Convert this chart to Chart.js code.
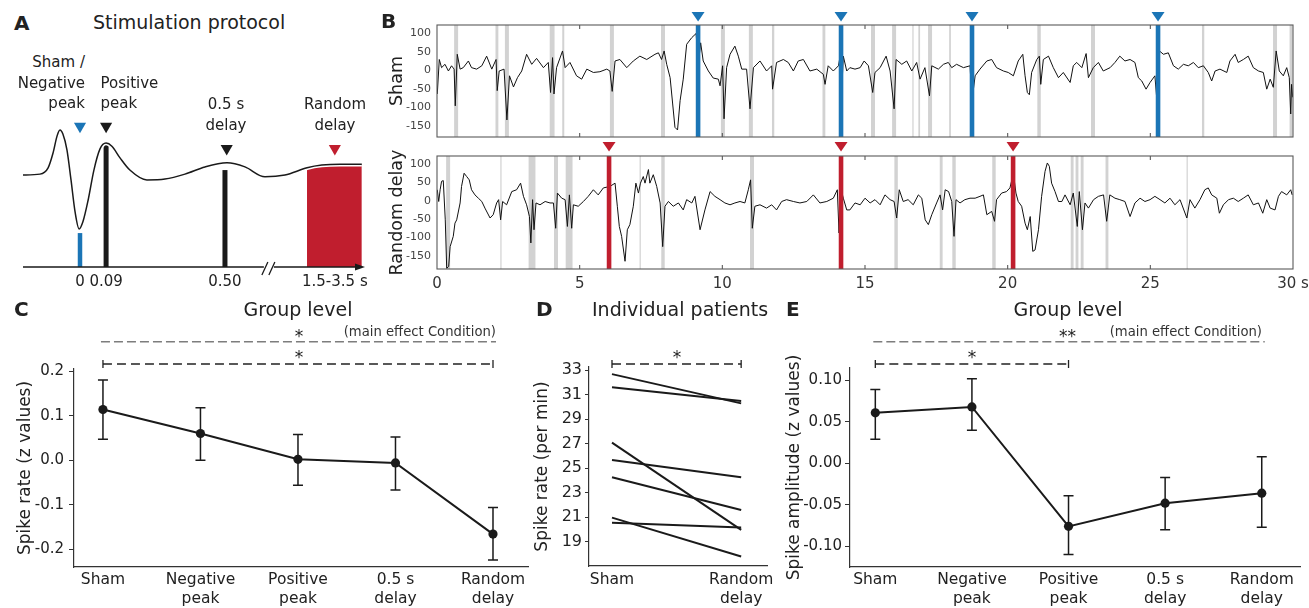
<!DOCTYPE html>
<html><head><meta charset="utf-8">
<script src="https://cdn.jsdelivr.net/npm/chart.js@4.4.0/dist/chart.umd.min.js"></script>
<style>
html,body{margin:0;padding:0;background:#fff;width:1309px;height:608px;overflow:hidden;}
#root{position:relative;width:1309px;height:608px;}
.box{position:absolute;}
.t{position:absolute;white-space:nowrap;line-height:1;color:#222;font-family:"DejaVu Sans",sans-serif;}
</style></head><body>
<div id="root"></div>
<script>
// ================= DATA =================
// Panel A: schematic stimulation protocol (time axis in s, amplitude in arbitrary units)
const waveT = [-0.197,-0.138,-0.110,-0.093,-0.079,-0.069,-0.059,-0.045,-0.031,-0.017,-0.003,0.010,0.028,0.048,0.069,0.090,0.110,0.138,0.172,0.231,0.293,0.362,0.431,0.507,0.569,0.638,0.707,0.783,0.834,0.897,0.972];
const waveV = [0,0.02,0.16,0.49,0.87,1.00,0.91,0.56,-0.11,-0.82,-1.20,-1.04,-0.56,0.11,0.58,0.71,0.64,0.38,0.11,-0.11,-0.09,0.02,0.18,0.27,0.18,-0.04,0,0.16,0.22,0.24,0.24];
const randomWindowStart = 0.783;
const pulseT = [0, 0.09, 0.5];
const pulseTop = [-1.29, 0.70, 0.11];
const markerT = [0, 0.09, 0.506, 0.879];
const markerV = [1.085, 1.085, 0.59, 0.59];
const protoTickT = [0, 0.09, 0.5, 0.879];
const protoTickLabels = ['0', '0.09', '0.50', '1.5-3.5 s'];

// Panel B: EEG traces [time s, amplitude]
const shamTrace = [[0.01,-64],[0.08,29],[0.16,7],[0.28,16],[0.40,-2],[0.51,12],[0.60,3],[0.64,-96],[0.71,43],[0.81,3],[0.92,7],[1.10,25],[1.21,7],[1.39,3],[1.57,12],[1.74,38],[1.92,3],[2.07,29],[2.11,-55],[2.18,-2],[2.35,3],[2.45,-134],[2.54,-15],[2.68,-45],[2.82,-20],[2.97,-2],[3.14,43],[3.32,16],[3.49,32],[3.73,7],[3.90,21],[3.98,-60],[4.05,34],[4.10,-64],[4.19,7],[4.40,52],[4.49,7],[4.66,21],[4.89,-15],[5.07,-24],[5.25,3],[5.48,-6],[5.71,-4],[5.95,3],[6.06,-2],[6.14,-57],[6.24,25],[6.41,29],[6.65,7],[6.88,25],[7.11,38],[7.35,29],[7.64,43],[7.76,47],[7.87,29],[7.96,52],[8.05,16],[8.17,-20],[8.26,-91],[8.34,-154],[8.43,-161],[8.52,-82],[8.63,-24],[8.75,70],[8.93,88],[9.08,99],[9.16,16],[9.24,74],[9.33,25],[9.51,-2],[9.68,-21],[9.86,-24],[9.92,-42],[10.01,12],[10.06,-131],[10.15,7],[10.27,43],[10.44,65],[10.56,38],[10.68,3],[10.85,3],[10.97,-104],[11.09,7],[11.32,25],[11.55,-2],[11.73,12],[11.76,-51],[11.90,21],[12.14,29],[12.31,21],[12.49,-2],[12.66,25],[12.84,29],[13.07,-2],[13.31,3],[13.54,-11],[13.60,-38],[13.71,12],[13.89,-2],[14.07,12],[14.15,47],[14.18,-64],[14.24,38],[14.36,-2],[14.47,7],[14.65,3],[14.83,7],[14.97,25],[15.12,12],[15.27,-60],[15.35,-6],[15.53,7],[15.74,38],[15.88,-2],[16.02,-104],[16.09,29],[16.29,16],[16.46,25],[16.64,-2],[16.81,21],[16.93,-24],[17.10,7],[17.26,-69],[17.34,12],[17.57,3],[17.75,16],[17.92,21],[18.04,7],[18.21,16],[18.45,7],[18.68,12],[18.75,-82],[18.86,-15],[19.03,3],[19.27,25],[19.44,29],[19.61,7],[19.85,-2],[20.02,-6],[20.20,-15],[20.37,25],[20.53,43],[20.61,-15],[20.69,-60],[20.76,-66],[20.84,-6],[21.02,29],[21.11,38],[21.16,-38],[21.25,29],[21.43,38],[21.60,7],[21.78,-20],[21.95,-6],[22.19,-33],[22.30,12],[22.42,21],[22.60,7],[22.75,45],[22.83,-20],[23.00,7],[23.18,21],[23.35,-2],[23.59,7],[23.76,21],[23.93,38],[24.11,25],[24.29,29],[24.46,21],[24.58,-20],[24.70,-29],[24.85,-51],[24.99,-33],[25.16,-15],[25.25,-100],[25.32,52],[25.46,43],[25.63,47],[25.81,12],[25.98,3],[26.16,16],[26.33,12],[26.51,21],[26.68,7],[26.86,12],[27.03,-6],[27.15,-29],[27.27,-2],[27.44,3],[27.68,-6],[27.79,25],[27.97,43],[28.08,21],[28.26,29],[28.43,38],[28.61,7],[28.79,-2],[28.96,-6],[29.08,-51],[29.20,-24],[29.31,-46],[29.41,52],[29.52,-2],[29.66,-15],[29.78,7],[29.87,-20],[29.92,-118],[29.95,-38],[29.99,-73]];
const randomTrace = [[0.01,30],[0.06,-2],[0.11,30],[0.16,53],[0.22,55],[0.29,-52],[0.34,-184],[0.41,-179],[0.46,-125],[0.57,-97],[0.63,-61],[0.69,-52],[0.81,-6],[0.86,39],[0.95,75],[1.04,66],[1.13,57],[1.21,30],[1.33,16],[1.45,7],[1.57,-2],[1.68,-20],[1.86,-47],[1.97,-38],[2.09,-6],[2.16,3],[2.23,-52],[2.30,-2],[2.44,-11],[2.62,25],[2.79,30],[2.93,48],[3.03,12],[3.14,-11],[3.24,-43],[3.29,-115],[3.35,3],[3.40,-79],[3.47,-6],[3.61,-11],[3.79,-2],[3.96,-6],[4.08,-6],[4.16,-75],[4.22,21],[4.37,7],[4.49,3],[4.57,-70],[4.64,16],[4.72,-75],[4.78,-11],[4.95,-15],[5.13,-2],[5.30,12],[5.48,30],[5.65,16],[5.83,35],[6.06,39],[6.24,48],[6.32,-15],[6.39,-70],[6.47,-97],[6.59,-165],[6.67,-79],[6.76,-65],[6.88,-15],[6.97,48],[7.06,21],[7.13,48],[7.23,66],[7.29,48],[7.41,85],[7.46,48],[7.58,71],[7.70,39],[7.82,-6],[7.91,-125],[7.99,-15],[8.11,-2],[8.28,-15],[8.46,-6],[8.63,-25],[8.75,3],[8.93,-6],[9.04,12],[9.22,-79],[9.39,-25],[9.57,25],[9.74,12],[9.92,3],[10.09,-6],[10.27,-11],[10.44,-6],[10.62,-2],[10.79,-6],[10.91,30],[10.99,57],[11.05,-75],[11.14,-15],[11.32,-11],[11.55,-20],[11.73,-11],[11.90,-25],[12.08,-2],[12.25,3],[12.49,-2],[12.72,-6],[12.96,-2],[13.19,16],[13.42,-6],[13.66,-2],[13.89,7],[14.03,30],[14.09,-88],[14.15,35],[14.24,7],[14.36,-25],[14.47,-25],[14.65,-6],[14.83,-11],[15.00,7],[15.18,-6],[15.35,3],[15.53,-11],[15.70,16],[15.88,3],[16.02,-2],[16.11,-47],[16.20,30],[16.34,-2],[16.51,3],[16.69,-11],[16.87,16],[16.99,7],[17.11,-52],[17.22,-65],[17.34,-38],[17.51,-6],[17.63,16],[17.72,-25],[17.81,30],[17.93,25],[18.04,-2],[18.12,-97],[18.19,3],[18.33,-6],[18.50,3],[18.68,7],[18.86,7],[19.03,12],[19.15,16],[19.27,-38],[19.44,-29],[19.54,-56],[19.61,3],[19.79,21],[19.96,25],[20.08,35],[20.20,75],[20.29,21],[20.37,-2],[20.49,-15],[20.61,-61],[20.69,-79],[20.79,-43],[20.88,-138],[20.96,-134],[21.08,-79],[21.19,12],[21.31,80],[21.39,103],[21.46,94],[21.54,48],[21.66,25],[21.78,-2],[21.90,-2],[22.01,16],[22.19,-11],[22.30,21],[22.44,-70],[22.51,25],[22.62,-79],[22.71,-6],[22.83,-20],[23.01,3],[23.18,12],[23.36,16],[23.47,-56],[23.58,16],[23.76,7],[23.93,3],[24.11,-2],[24.29,-43],[24.46,-6],[24.64,7],[24.81,-2],[24.99,3],[25.16,12],[25.34,3],[25.51,-6],[25.69,7],[25.86,-11],[26.04,3],[26.28,-47],[26.39,3],[26.56,-20],[26.74,3],[26.91,30],[27.03,35],[27.15,16],[27.33,7],[27.42,-34],[27.56,-11],[27.74,3],[27.91,7],[28.08,-2],[28.26,7],[28.43,16],[28.61,-11],[28.79,-6],[28.94,-34],[29.08,3],[29.20,-20],[29.37,-25],[29.49,12],[29.60,25],[29.78,16],[29.92,30],[29.97,16]];
const shamBands = [[0.60,0.74],[2.05,2.15],[2.38,2.52],[3.95,4.12],[4.39,4.46],[6.06,6.20],[7.85,7.99],[9.95,10.09],[10.93,11.07],[11.74,11.82],[13.51,13.61],[15.21,15.35],[15.95,16.09],[16.66,16.70],[16.87,16.93],[17.21,17.35],[17.95,18.01],[21.04,21.16],[22.92,23.06],[26.81,26.89],[29.30,29.44],[29.88,29.98]];
const randomBands = [[0.32,0.46],[2.22,2.26],[3.21,3.45],[4.10,4.24],[4.51,4.75],[7.10,7.14],[7.86,7.98],[10.97,11.11],[16.03,16.15],[17.62,17.72],[18.06,18.18],[19.46,19.58],[22.21,22.31],[22.38,22.48],[22.56,22.66],[23.43,23.53],[26.27,26.31]];
const shamStim = [9.15, 14.16, 18.75, 25.27];
const randomStim = [6.03, 14.16, 20.19];
const eegTicks = [0, 5, 10, 15, 20, 25, 30];
const eegTickLabels = ['0', '5', '10', '15', '20', '25', '30 s'];
const eegYTicks = [-150, -100, -50, 0, 50, 100];

// Panels C / E: group level
const conditions = [['Sham'], ['Negative', 'peak'], ['Positive', 'peak'], ['0.5 s', 'delay'], ['Random', 'delay']];
const rateMean = [0.114, 0.060, 0.002, -0.006, -0.166];
const rateHigh = [0.180, 0.118, 0.058, 0.052, -0.106];
const rateLow  = [0.047, 0.000, -0.056, -0.067, -0.224];
const rateTicks = [-0.2, -0.1, 0, 0.1, 0.2];
const ampMean = [0.061, 0.068, -0.076, -0.048, -0.036];
const ampHigh = [0.089, 0.102, -0.039, -0.017, 0.008];
const ampLow  = [0.029, 0.040, -0.110, -0.080, -0.077];
const ampTicks = [-0.10, -0.05, 0, 0.05, 0.10];
const rateSig = [[0, 4, 'main'], [0, 4, 'pair']];
const ampSig  = [[0, 4, 'main'], [0, 2, 'pair']];

// Panel D: individual patients
const patientConditions = [['Sham'], ['Random', 'delay']];
const patientSham   = [32.67, 31.60, 27.07, 25.66, 24.25, 20.95, 20.54];
const patientRandom = [30.28, 30.47, 19.95, 24.25, 21.58, 17.77, 20.14];
const patientTicks = [19, 21, 23, 25, 27, 29, 31, 33];
const patientSig = [[0, 1, 'pair']];

// ================= SETUP =================
const FONT = "'DejaVu Sans', sans-serif";
Chart.defaults.font.family = FONT;
Chart.defaults.color = '#222';
Chart.defaults.animation = false;
Chart.defaults.events = [];
Chart.defaults.plugins.legend.display = false;
Chart.defaults.plugins.tooltip.enabled = false;
const BLUE = '#1b75b6', RED = '#c01e2e', INK = '#1a1a1a';
const root = document.getElementById('root');

function makeCanvas(l, t, w, h) {
  const d = document.createElement('div'); d.className = 'box';
  d.style.cssText = `left:${l}px;top:${t}px;width:${w}px;height:${h}px;`;
  const c = document.createElement('canvas'); c.width = w; c.height = h;
  c.style.width = w + 'px'; c.style.height = h + 'px';
  d.appendChild(c); root.appendChild(d); return c;
}
function txt(x, base, size, s, align, opt) {
  opt = opt || {};
  const d = document.createElement('div'); d.className = 't'; d.textContent = s;
  d.style.fontSize = size + 'px'; d.style.top = (base - 0.846 * size) + 'px';
  if (opt.bold) d.style.fontWeight = 'bold';
  if (opt.color) d.style.color = opt.color;
  if (align === 'right') { d.style.left = (x - 1000) + 'px'; d.style.width = '1000px'; d.style.textAlign = 'right'; }
  else if (align === 'center') { d.style.left = (x - 500) + 'px'; d.style.width = '1000px'; d.style.textAlign = 'center'; }
  else d.style.left = x + 'px';
  d.style.zIndex = 5; root.appendChild(d);
}
const fixW = w => s => { s.width = w; s.paddingTop = 0; s.paddingBottom = 0; s.paddingLeft = 0; s.paddingRight = 0; };
const fixH = h => s => { s.height = h; s.paddingTop = 0; s.paddingBottom = 0; s.paddingLeft = 0; s.paddingRight = 0; };
const setTicks = arr => s => { s.ticks = arr.map(v => ({ value: v })); };

// ================= PANEL A =================
(function () {
  const wave = waveT.map((t, i) => ({ x: t, y: waveV[i] }));
  const redPart = wave.filter(p => p.x >= randomWindowStart);
  const yMin = -2.044;
  const pulseColors = [BLUE, INK, INK];
  const markerColors = [BLUE, INK, INK, RED];
  const ds = [];
  ds.push({ data: markerT.map((t, i) => ({ x: t, y: markerV[i] })), showLine: false, pointStyle: 'triangle', rotation: 180, pointRadius: 7, pointBackgroundColor: markerColors, pointBorderWidth: 0, clip: false });
  ds.push({ data: wave, borderColor: INK, borderWidth: 1.5, pointRadius: 0, cubicInterpolationMode: 'monotone' });
  ds.push({ data: wave, borderColor: '#fff', borderWidth: 4.5, pointRadius: 0, cubicInterpolationMode: 'monotone' });
  pulseT.forEach((t, i) => ds.push({ data: [{ x: t, y: yMin }, { x: t, y: pulseTop[i] }], borderColor: pulseColors[i], borderWidth: i === 0 ? 4.5 : 5, pointRadius: 0, borderCapStyle: 'butt' }));
  ds.push({ data: redPart, borderWidth: 0, borderColor: RED, backgroundColor: RED, fill: 'start', pointRadius: 0, cubicInterpolationMode: 'monotone' });

  const axisPlugin = {
    id: 'protoAxis',
    afterDraw(chart) {
      const { ctx, chartArea: a, scales: { x } } = chart;
      const y = a.bottom, bx = x.getPixelForValue(0.648);
      ctx.save(); ctx.strokeStyle = INK; ctx.fillStyle = INK; ctx.lineWidth = 1.4;
      ctx.beginPath(); ctx.moveTo(a.left, y); ctx.lineTo(bx - 4, y); ctx.moveTo(bx + 6, y); ctx.lineTo(a.right - 6, y); ctx.stroke();
      ctx.beginPath(); ctx.moveTo(a.right - 10, y - 3.5); ctx.lineTo(a.right, y); ctx.lineTo(a.right - 10, y + 3.5); ctx.closePath(); ctx.fill();
      ctx.lineWidth = 1.3;
      ctx.beginPath(); ctx.moveTo(bx - 6, y + 8); ctx.lineTo(bx, y - 5); ctx.moveTo(bx + 1, y + 8); ctx.lineTo(bx + 7, y - 5); ctx.stroke();
      ctx.restore();
    }
  };
  new Chart(makeCanvas(0, 90, 380, 210), {
    type: 'line',
    data: { datasets: ds },
    plugins: [axisPlugin],
    options: {
      responsive: false,
      layout: { padding: { left: 23, right: 15, top: 10, bottom: 0 } },
      scales: {
        x: { type: 'linear', min: -0.1966, max: 0.983, afterFit: fixH(33), afterBuildTicks: setTicks(protoTickT),
             grid: { display: false, drawTicks: false }, border: { display: false },
             ticks: { autoSkip: false, maxRotation: 0, padding: 6, font: { size: 15 }, color: '#222', callback: (v, i) => protoTickLabels[i] } },
        y: { type: 'linear', min: yMin, max: 1.667, display: false }
      }
    }
  });
})();

// ================= PANEL B =================
const eegPlugin = {
  id: 'eeg',
  beforeDatasetsDraw(chart, args, o) {
    const { ctx, chartArea: a, scales: { x } } = chart;
    ctx.save(); ctx.fillStyle = '#d2d2d2';
    o.bands.forEach(([t0, t1]) => { const p0 = x.getPixelForValue(t0), p1 = x.getPixelForValue(t1); ctx.fillRect(p0, a.top, Math.max(p1 - p0, 1.2), a.bottom - a.top); });
    ctx.restore();
  },
  afterDatasetsDraw(chart, args, o) {
    const { ctx, chartArea: a, scales: { x } } = chart;
    ctx.save();
    ctx.fillStyle = o.color;
    o.stim.forEach(t => { const p = x.getPixelForValue(t); ctx.fillRect(p - 2.3, a.top, 4.6, a.bottom - a.top); });
    if (o.tri) {
      ctx.fillStyle = o.tri.color;
      o.tri.times.forEach(t => { const p = x.getPixelForValue(t); ctx.beginPath(); ctx.moveTo(p - 6.5, o.tri.top); ctx.lineTo(p + 6.5, o.tri.top); ctx.lineTo(p, o.tri.top + 9.5); ctx.closePath(); ctx.fill(); });
    }
    ctx.strokeStyle = '#5a5a5a'; ctx.lineWidth = 1.1;
    ctx.strokeRect(a.left, a.top, a.right - a.left, a.bottom - a.top);
    ctx.beginPath();
    o.inTicks.forEach(t => { const p = x.getPixelForValue(t); ctx.moveTo(p, a.top); ctx.lineTo(p, a.top + 4); ctx.moveTo(p, a.bottom); ctx.lineTo(p, a.bottom - 4); });
    ctx.stroke();
    ctx.restore();
  }
};
function eegChart(canvas, trace, pad, yMin, yMax, title, showX, opts) {
  const xCfg = { type: 'linear', min: 0, max: 30, display: showX, afterBuildTicks: setTicks(eegTicks),
             grid: { display: false, drawTicks: false }, border: { display: false },
             ticks: { autoSkip: false, maxRotation: 0, padding: 6.5, font: { size: 15 }, color: '#333', callback: (v, i) => eegTickLabels[i] } };
  if (showX) xCfg.afterFit = fixH(36);
  return new Chart(canvas, {
    type: 'line',
    data: { datasets: [{ data: trace.map(([t, v]) => ({ x: t, y: v })), borderColor: '#111', borderWidth: 1, pointRadius: 0, tension: 0 }] },
    plugins: [eegPlugin],
    options: {
      responsive: false,
      layout: { padding: pad },
      plugins: { eeg: opts },
      scales: {
        x: xCfg,
        y: { type: 'linear', min: yMin, max: yMax, afterFit: fixW(57), afterBuildTicks: setTicks(eegYTicks),
             grid: { display: false, drawTicks: false }, border: { display: false },
             ticks: { autoSkip: false, padding: 6, font: { size: 11 }, color: '#444' },
             title: { display: true, text: title, font: { size: 17.5 }, color: '#222', padding: { top: 6.5, bottom: 0 } } }
      }
    }
  });
}
eegChart(makeCanvas(380, 0, 929, 138), shamTrace, { left: 0, right: 16, top: 25, bottom: 1 }, -180, 122, 'Sham', false,
  { bands: shamBands, stim: shamStim, color: BLUE, tri: { times: shamStim, color: BLUE, top: 12 }, inTicks: [5, 10, 15, 20, 25] });
eegChart(makeCanvas(380, 138, 929, 167), randomTrace, { left: 0, right: 16, top: 18, bottom: 0 }, -186, 122, 'Random delay', true,
  { bands: randomBands, stim: randomStim, color: RED, tri: { times: randomStim, color: RED, top: 4 }, inTicks: [5, 10, 15, 20, 25] });

// ================= PANELS C, D, E =================
const statPlugin = {
  id: 'stat',
  beforeDatasetsDraw(chart, args, o) {
    if (!o.lo) return;
    const { ctx, scales: { x, y } } = chart;
    ctx.save(); ctx.strokeStyle = INK; ctx.lineWidth = 1.5;
    o.lo.forEach((lo, i) => {
      const px = x.getPixelForValue(i), p1 = y.getPixelForValue(lo), p2 = y.getPixelForValue(o.hi[i]);
      ctx.beginPath(); ctx.moveTo(px, p1); ctx.lineTo(px, p2);
      ctx.moveTo(px - 5, p1); ctx.lineTo(px + 5, p1); ctx.moveTo(px - 5, p2); ctx.lineTo(px + 5, p2); ctx.stroke();
    });
    ctx.restore();
  },
  afterDraw(chart, args, o) {
    const { ctx, scales: { x } } = chart;
    (o.sig || []).forEach(([i0, i1, kind]) => {
      const x0 = x.getPixelForValue(i0), x1 = x.getPixelForValue(i1);
      ctx.save();
      if (kind === 'main') {
        ctx.strokeStyle = '#7d7d7d'; ctx.lineWidth = 1.4; ctx.setLineDash([9, 4]);
        ctx.beginPath(); ctx.moveTo(x0 - 2, o.mainY); ctx.lineTo(x1 + 3, o.mainY); ctx.stroke();
      } else {
        ctx.strokeStyle = '#222'; ctx.lineWidth = 1.3; ctx.setLineDash([9, 5]);
        ctx.beginPath(); ctx.moveTo(x0, o.pairY); ctx.lineTo(x1, o.pairY); ctx.stroke();
        ctx.setLineDash([]);
        ctx.beginPath(); ctx.moveTo(x0, o.pairY - 4); ctx.lineTo(x0, o.pairY + 4); ctx.moveTo(x1, o.pairY - 4); ctx.lineTo(x1, o.pairY + 4); ctx.stroke();
      }
      ctx.restore();
    });
  }
};
function panelChart(canvas, cfg) {
  return new Chart(canvas, {
    type: 'line',
    data: { datasets: cfg.datasets },
    plugins: [statPlugin],
    options: {
      responsive: false,
      layout: { padding: cfg.pad },
      plugins: { stat: cfg.stat },
      scales: {
        x: { type: 'linear', min: cfg.xMin, max: cfg.xMax, afterFit: fixH(cfg.xh), afterBuildTicks: setTicks(cfg.labels.map((_, i) => i)),
             grid: { display: false, drawTicks: false }, border: { display: true, color: '#333', width: 1.2 },
             ticks: { autoSkip: false, maxRotation: 0, padding: cfg.xPad, font: { size: 15.5, lineHeight: 1.22 }, color: '#222', callback: (v, i) => cfg.labels[i] } },
        y: { type: 'linear', min: cfg.yMin, max: cfg.yMax, afterFit: fixW(cfg.yw), afterBuildTicks: setTicks(cfg.yTicks),
             grid: { display: true, drawOnChartArea: false, drawTicks: true, tickLength: cfg.tl, color: '#333' },
             border: { display: true, color: '#333', width: 1.2 },
             ticks: { autoSkip: false, padding: cfg.yPad, font: { size: cfg.yFont }, color: '#222', callback: v => (Math.abs(v) < 1e-9 ? 0 : v).toFixed(cfg.dec) },
             title: { display: true, text: cfg.title, font: { size: 17 }, color: '#222', padding: { top: cfg.titlePad, bottom: 0 } } }
      }
    }
  });
}
function meanSet(means) {
  return [{ data: means.map((m, i) => ({ x: i, y: m })), borderColor: INK, borderWidth: 2, pointRadius: 4.6, pointBackgroundColor: INK, pointBorderWidth: 0 }];
}
// C
panelChart(makeCanvas(0, 290, 540, 318), {
  datasets: meanSet(rateMean), labels: conditions, pad: { left: 0, right: 12, top: 79, bottom: 0 },
  xMin: -0.297, xMax: 4.359, xh: 41, xPad: 4, yMin: -0.24, yMax: 0.205, yTicks: rateTicks, dec: 1, yw: 74, tl: 5, yPad: 5, yFont: 15,
  title: 'Spike rate (z values)', titlePad: 15.5,
  stat: { lo: rateLow, hi: rateHigh, sig: rateSig, mainY: 51.7, pairY: 74 }
});
// D
panelChart(makeCanvas(525, 290, 255, 318), {
  datasets: patientSham.map((s, i) => ({ data: [{ x: 0, y: s }, { x: 1, y: patientRandom[i] }], borderColor: INK, borderWidth: 2, pointRadius: 0 })),
  labels: patientConditions, pad: { left: 0, right: 13, top: 77, bottom: 0 },
  xMin: -0.178, xMax: 1.2, xh: 42, xPad: 5, yMin: 17.0, yMax: 33.25, yTicks: patientTicks, dec: 0, yw: 64, tl: 4, yPad: 3, yFont: 16,
  title: 'Spike rate (per min)', titlePad: 7.8,
  stat: { sig: patientSig, pairY: 74 }
});
// E
panelChart(makeCanvas(780, 290, 529, 318), {
  datasets: meanSet(ampMean), labels: conditions, pad: { left: 0, right: 9, top: 78, bottom: 0 },
  xMin: -0.262, xMax: 4.396, xh: 41, xPad: 4, yMin: -0.125, yMax: 0.115, yTicks: ampTicks, dec: 2, yw: 70, tl: 5, yPad: 3, yFont: 15,
  title: 'Spike amplitude (z values)', titlePad: 4.8,
  stat: { lo: ampLow, hi: ampHigh, sig: ampSig, mainY: 51.7, pairY: 74 }
});

// ================= TEXT =================
txt(14, 30, 20, 'A', 'left', { bold: true });
txt(93, 29.5, 19, 'Stimulation protocol', 'left');
txt(85, 68, 15, 'Sham /', 'right');
txt(85, 88.5, 15, 'Negative', 'right');
txt(85, 109, 15, 'peak', 'right');
txt(100.5, 88.5, 15, 'Positive', 'left');
txt(100.5, 109, 15, 'peak', 'left');
txt(226, 110, 15, '0.5 s', 'center');
txt(226, 130.5, 15, 'delay', 'center');
txt(335, 110, 15, 'Random', 'center');
txt(335, 130.5, 15, 'delay', 'center');
txt(381, 27.5, 20, 'B', 'left', { bold: true });
txt(14, 316, 20, 'C', 'left', { bold: true });
txt(298, 316.5, 19, 'Group level', 'center');
txt(299, 342, 17, '*', 'center');
txt(299, 363, 17, '*', 'center');
txt(496, 336.5, 13.2, '(main effect Condition)', 'right', { color: '#333' });
txt(536, 316, 20, 'D', 'left', { bold: true });
txt(592, 316.5, 19, 'Individual patients', 'left');
txt(677, 363, 17, '*', 'center');
txt(786, 316, 20, 'E', 'left', { bold: true });
txt(1068, 316.5, 19, 'Group level', 'center');
txt(1067.5, 342, 17, '**', 'center');
txt(972, 363, 17, '*', 'center');
txt(1262, 336.5, 13.2, '(main effect Condition)', 'right', { color: '#333' });
</script>
</body></html>
